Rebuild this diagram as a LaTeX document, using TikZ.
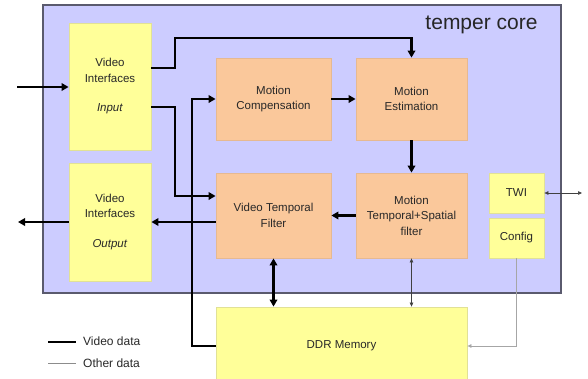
\documentclass[tikz,border=0pt]{standalone}
\usepackage{fontspec}
\setmainfont{Liberation Sans}
\usetikzlibrary{arrows.meta,calc}
\definecolor{corefill}{RGB}{204,204,255}
\definecolor{coreline}{RGB}{90,90,110}
\definecolor{yelfill}{RGB}{255,255,153}
\definecolor{yelline}{RGB}{225,225,150}
\definecolor{orfill}{RGB}{250,200,155}
\definecolor{orline}{RGB}{230,185,145}
\definecolor{txt}{RGB}{40,40,40}
\tikzset{
  ybox/.style={draw=yelline, fill=yelfill, line width=0.8pt, align=center, text=txt, font=\fontsize{11.5}{15.5}\selectfont, inner sep=0pt},
  obox/.style={draw=orline, fill=orfill, line width=0.8pt, align=center, text=txt, font=\fontsize{11.5}{15.5}\selectfont, inner sep=0pt},
  vid/.style={line width=2.6pt, draw=black, -{Triangle[length=7pt,width=7.5pt]}},
  vidd/.style={line width=2.6pt, draw=black, {Triangle[length=7pt,width=7.5pt]}-{Triangle[length=7pt,width=7.5pt]}},
  vidline/.style={line width=2.6pt, draw=black},
  oth/.style={line width=0.6pt, draw=black!75, {Triangle[length=4pt,width=3.5pt]}-{Triangle[length=4pt,width=3.5pt]}},
  cfgline/.style={line width=0.7pt, draw=black!35, -{Triangle[length=4pt,width=3.5pt]}},
  legtext/.style={anchor=west, text=txt, font=\fontsize{12}{14}\selectfont, inner sep=0pt}
}
\begin{document}
\begin{tikzpicture}[x=1pt,y=-1pt]
\useasboundingbox (0,0) rectangle (588,378);
% core
\node[draw=coreline, fill=corefill, line width=1.4pt, minimum width=518pt, minimum height=288pt, inner sep=0pt] (core) at (302,149) {};
\node[anchor=base, font=\fontsize{21}{24}\selectfont, text=black!85, inner sep=0pt] (title) at (481.5,29) {temper core};
% boxes
\node[ybox, minimum width=82pt, minimum height=127pt] (vin) at (110,86.5) {Video\\Interfaces\\[14pt]\textit{Input}};
\node[ybox, minimum width=82pt, minimum height=118pt] (vout) at (110,222) {Video\\Interfaces\\[14pt]\textit{Output}};
\node[obox, minimum width=115pt, minimum height=82pt] (mc) at (273.5,99) {Motion\\Compensation};
\node[obox, minimum width=111pt, minimum height=82pt] (me) at (411.5,99) {Motion\\Estimation};
\node[obox, minimum width=115pt, minimum height=85pt] (vtf) at (273.5,215.5) {Video Temporal\\Filter};
\node[obox, minimum width=111pt, minimum height=85pt] (mts) at (411.5,215.5) {Motion\\Temporal+Spatial\\filter};
\node[ybox, minimum width=55pt, minimum height=40pt] (twi) at (516.5,193) {TWI};
\node[ybox, minimum width=55pt, minimum height=40pt] (cfg) at (516.5,238) {Config};
\node[ybox, minimum width=251pt, minimum height=78pt] (ddr) at (341.5,346) {DDR Memory};
% free ends
\coordinate (inL) at (17,87);
\coordinate (outL) at (18,222);
\coordinate (twiR) at (582,193);
% video connectors
\draw[vid] (inL) -- (inL -| vin.west);
\draw[vid] (vin.east |- 0,68) -- (175,68) -- (175,38) -| (me.north);
\draw[vid] (vin.east |- 0,107) -- (175,107) |- (vtf.west |- 0,196);
\draw[vid] (ddr.west |- 0,346) -- (192,346) |- (mc.west);
\draw[vid] (mc.east) -- (me.west);
\draw[vid] (me.south) -- (mts.north);
\draw[vid] (mts.west) -- (vtf.east);
\draw[vid] (vtf.west |- vout.east) -- (vout.east);
\draw[vid] (vout.west) -- (outL);
\draw[vidd] (vtf.south) -- (vtf.south |- ddr.north);
% other connectors
\draw[oth] (mts.south) -- (mts.south |- ddr.north);
\draw[oth] (twi.east) -- (twiR);
\draw[cfgline] (cfg.south) -- (cfg.south |- 0,346) -- (ddr.east |- 0,346);
% legend
\coordinate (l1a) at (48,342);
\coordinate (l1b) at (76,342);
\coordinate (l2a) at (48,363);
\coordinate (l2b) at (76,363);
\draw[vidline] (l1a) -- (l1b);
\draw[line width=0.5pt, draw=black!45] (l2a) -- (l2b);
\node[legtext] (lv) at (83,341) {Video data};
\node[legtext] (lo) at (83,363) {Other data};
\end{tikzpicture}
\end{document}
